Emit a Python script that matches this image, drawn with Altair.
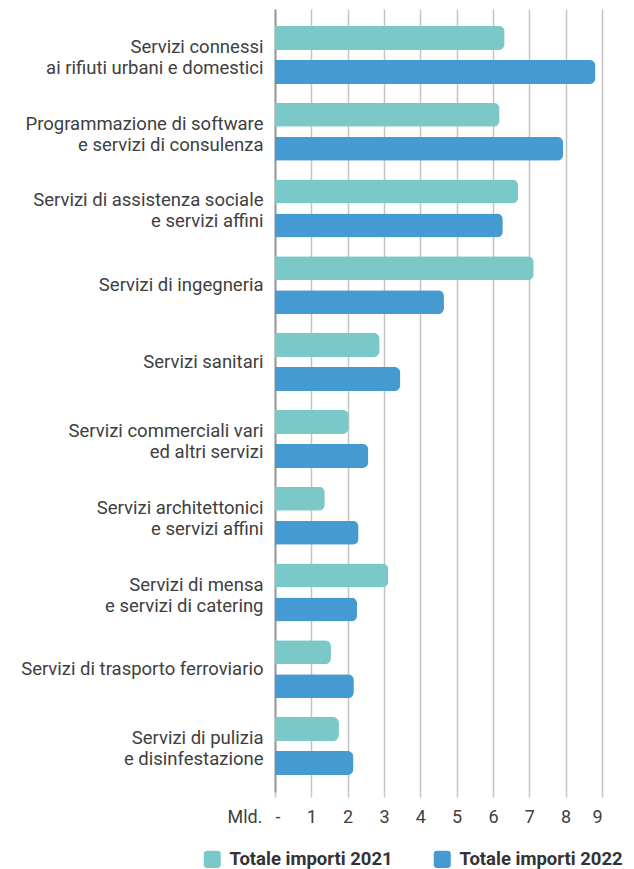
import altair as alt
import pandas as pd

categories = [
    "Servizi connessi|ai rifiuti urbani e domestici",
    "Programmazione di software|e servizi di consulenza",
    "Servizi di assistenza sociale|e servizi affini",
    "Servizi di ingegneria",
    "Servizi sanitari",
    "Servizi commerciali vari|ed altri servizi",
    "Servizi architettonici|e servizi affini",
    "Servizi di mensa|e servizi di catering",
    "Servizi di trasporto ferroviario",
    "Servizi di pulizia|e disinfestazione",
]
values_2021 = [6.32, 6.18, 6.69, 7.12, 2.88, 2.03, 1.37, 3.12, 1.54, 1.76]
values_2022 = [8.82, 7.93, 6.27, 4.65, 3.45, 2.57, 2.30, 2.26, 2.17, 2.16]
series = ["Totale importi 2021", "Totale importi 2022"]
colors = ["#7AC9C8", "#459BD1"]
x_ticks = list(range(0, 10))

rows = []
for c, a, b in zip(categories, values_2021, values_2022):
    rows.append({"cat": c, "serie": series[0], "val": a})
    rows.append({"cat": c, "serie": series[1], "val": b})
df = pd.DataFrame(rows)

FONT = "Roboto"
rounded = ("M -0.6,-1 L 0.6,-1 Q 1,-1 1,-0.6 L 1,0.6 Q 1,1 0.6,1 L -0.6,1 "
           "Q -1,1 -1,0.6 L -1,-0.6 Q -1,-1 -0.6,-1 Z")

chart = alt.Chart(df).mark_bar(cornerRadiusTopRight=6, cornerRadiusBottomRight=6).encode(
    x=alt.X("val:Q",
            scale=alt.Scale(domain=[0, 9], nice=False),
            axis=alt.Axis(values=x_ticks, title="Mld.", grid=True, gridColor="#c4c4c4",
                          gridWidth=1.5, domain=False, ticks=True, tickSize=5,
                          tickColor="#c4c4c4", tickWidth=1.5, labelPadding=11,
                          labelFontSize=18, labelColor="#404040", labelFont=FONT,
                          labelExpr="datum.value == 0 ? '-' : datum.label",
                          titleFont=FONT, titleFontSize=18, titleFontWeight="normal",
                          titleColor="#404040", titleAlign="right", titleAnchor="start",
                          titleX=-13, titleY=16, titleBaseline="top")),
    y=alt.Y("cat:N", sort=categories,
            scale=alt.Scale(paddingInner=0.245, paddingOuter=0.22),
            axis=alt.Axis(title=None, ticks=False, domain=True, domainColor="#999999",
                          domainWidth=2, labelPadding=12, labelFontSize=18.5,
                          labelColor="#404040", labelFont=FONT, labelLimit=300,
                          labelLineHeight=21,
                          labelOffset={"condition": {"test": "indexof(datum.value, '|') >= 0",
                                                     "value": -8}, "value": 0},
                          labelExpr="split(datum.label, '|')")),
    yOffset=alt.YOffset("serie:N", sort=series,
                        scale=alt.Scale(paddingInner=0.294, paddingOuter=0)),
    color=alt.Color("serie:N", sort=series,
                    scale=alt.Scale(domain=series, range=colors),
                    legend=alt.Legend(title=None, orient="none", direction="horizontal",
                                      legendX=-72, legendY=841, padding=0,
                                      symbolType=rounded, symbolSize=290,
                                      symbolStrokeWidth=0, labelFont=FONT,
                                      labelFontSize=18.5, labelFontWeight="bold",
                                      labelColor="#333333", labelOffset=8,
                                      labelLimit=300, columnPadding=40)),
).properties(
    width=327,
    height=783,
    autosize=alt.AutoSizeParams(type="none"),
    padding={"left": 267, "top": 1, "right": 24, "bottom": 77},
).configure_view(stroke=None)

chart.save("out.html", embed_options={"renderer": "svg", "actions": False})
